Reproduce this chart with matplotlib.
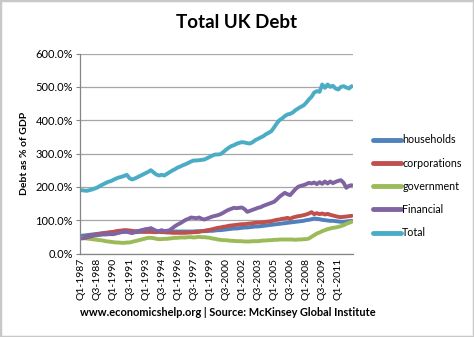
import matplotlib
matplotlib.use("Agg")
import matplotlib.pyplot as plt
from matplotlib.patches import Rectangle
import numpy as np

# quarterly values, Q1-1987 .. Q2-2012 (% of GDP)
households = [53, 54, 55, 56, 57, 58, 59, 60, 61, 62, 63, 63, 64, 64, 64, 65, 65, 65, 64, 64,
              64, 64, 65, 65, 65, 65, 66, 66, 66, 66, 66, 66, 66, 66, 66, 66, 66, 66, 66, 66,
              66, 66, 66, 67, 67, 67, 67, 67, 68, 68, 69, 70, 70, 71, 72, 73, 74, 75, 75, 76,
              77, 78, 78, 79, 80, 81, 81, 82, 83, 84, 85, 86, 87, 88, 89, 90, 91, 92, 93, 94,
              95, 96, 97, 98, 100, 101, 103, 105, 104, 103, 101, 100, 99, 98, 98, 97, 96, 95, 95, 96,
              97, 98]
corporations = [47, 48, 50, 52, 54, 56, 58, 59, 60, 61, 62, 64, 65, 67, 68, 69, 70, 70, 69, 68,
                67, 67, 66, 66, 65, 66, 65, 64, 64, 65, 64, 64, 63, 63, 62, 62, 62, 62, 62, 62,
                63, 63, 64, 64, 65, 67, 68, 70, 71, 73, 75, 77, 78, 80, 81, 83, 84, 85, 86, 87,
                88, 88, 89, 90, 91, 92, 93, 93, 94, 95, 96, 97, 99, 101, 102, 104, 105, 107, 104, 108,
                110, 112, 113, 115, 117, 120, 124, 118, 121, 118, 120, 117, 119, 116, 114, 112, 110, 109, 110, 111,
                112, 113]
government = [47, 46, 45, 44, 43, 42, 41, 40, 39, 37, 36, 35, 34, 33, 33, 32, 32, 33, 33, 35,
              37, 39, 41, 43, 45, 47, 47, 46, 44, 43, 43, 44, 44, 45, 46, 47, 47, 48, 48, 48,
              49, 49, 48, 49, 50, 49, 49, 48, 47, 45, 44, 42, 41, 40, 40, 39, 38, 38, 37, 37,
              37, 36, 36, 36, 37, 37, 37, 38, 39, 39, 40, 40, 41, 41, 42, 42, 42, 42, 42, 42,
              41, 42, 42, 43, 43, 45, 50, 55, 60, 63, 67, 70, 73, 75, 77, 78, 80, 82, 85, 89,
              92, 95]
financial = [45, 46, 48, 50, 52, 54, 55, 56, 57, 57, 58, 58, 58, 60, 62, 64, 65, 66, 63, 61,
             64, 67, 69, 71, 73, 74, 76, 72, 68, 67, 70, 67, 68, 70, 76, 82, 87, 91, 96, 101,
             104, 108, 107, 106, 108, 104, 102, 105, 108, 111, 113, 115, 118, 122, 127, 131, 134, 137, 136, 137,
             138, 133, 125, 128, 131, 134, 137, 139, 143, 146, 149, 152, 155, 162, 170, 176, 182, 178, 175, 184,
             193, 200, 203, 205, 208, 212, 210, 213, 208, 214, 209, 216, 210, 216, 211, 215, 218, 220, 212, 197,
             203, 205]
total = [190, 189, 188, 190, 192, 195, 198, 203, 207, 211, 215, 217, 221, 225, 228, 230, 233, 236, 226, 222,
         225, 229, 233, 237, 241, 245, 250, 243, 237, 234, 236, 234, 239, 244, 249, 253, 258, 261, 265, 268,
         272, 276, 279, 279, 280, 281, 282, 286, 290, 294, 297, 297, 298, 304, 311, 317, 322, 325, 329, 332,
         334, 333, 331, 330, 334, 340, 344, 348, 352, 358, 362, 367, 378, 390, 400, 405, 412, 417, 419, 423,
         430, 435, 440, 444, 452, 462, 470, 483, 487, 485, 507, 497, 507, 500, 503, 495, 492, 500, 502, 498,
         495, 502]

series_names = ["households", "corporations", "government", "Financial", "Total"]
colors = ["#4F81BD", "#C0504D", "#9BBB59", "#8064A2", "#4BACC6"]
tick_labels = ["Q1-1987", "Q3-1988", "Q1-1990", "Q3-1991", "Q1-1993", "Q3-1994", "Q1-1996",
               "Q3-1997", "Q1-1999", "Q3-2000", "Q1-2002", "Q3-2003", "Q1-2005", "Q3-2006",
               "Q1-2008", "Q3-2009", "Q1-2011"]

plt.rcParams['font.family'] = ['Lato', 'DejaVu Sans']

fig = plt.figure(figsize=(4.74, 3.37), dpi=100)
ax = fig.add_axes([80/474, 1 - 253.5/337, 273/474, 200/337])

x = np.arange(len(total))
for vals, name, c in zip([households, corporations, government, financial, total], series_names, colors):
    ax.plot(x, vals, color=c, lw=2.8, label=name, solid_capstyle='round', solid_joinstyle='round')

ax.set_xlim(-0.5, len(total) - 0.5)
ax.set_ylim(0, 600)
ax.set_yticks(np.arange(0, 601, 100))
ax.set_yticklabels([f"{v:.1f}%" for v in np.arange(0, 601, 100)], fontsize=8)
ax.set_xticks(np.arange(0, len(total), 6)[:len(tick_labels)])
ax.set_xticklabels(tick_labels, rotation=90, fontsize=7.5)
ax.tick_params(axis='x', length=0, pad=3)
ax.tick_params(axis='y', length=3, color='#868686', pad=2)
ax.grid(axis='y', color='#a6a6a6', lw=0.9)
ax.set_axisbelow(True)
for s in ['top', 'right']:
    ax.spines[s].set_visible(False)
for s in ['left', 'bottom']:
    ax.spines[s].set_color('#868686')
    ax.spines[s].set_linewidth(0.9)

ax.set_ylabel("Debt as % of GDP", fontsize=7.5, fontweight='bold', labelpad=5)
fig.text(0.5, 1 - 22/337, "Total UK Debt", ha='center', va='center', fontsize=13.5, fontweight='bold')
fig.text(80/474, 1 - 313/337, "www.economicshelp.org | Source: McKinsey Global Institute",
         ha='left', va='center', fontsize=7.9, fontweight='bold')

leg = fig.legend(loc='upper left', bbox_to_anchor=(369/474, 1 - 130/337), frameon=False,
                 fontsize=7.7, handlelength=2.6, handletextpad=0.1, labelspacing=1.15, borderaxespad=0)
for h in leg.get_lines():
    h.set_linewidth(3.5)

fig.patches.append(Rectangle((0, 0), 1, 1, transform=fig.transFigure, fill=False,
                             edgecolor='#c8c8c8', lw=2.5))

fig.savefig("out.png", dpi=100)
